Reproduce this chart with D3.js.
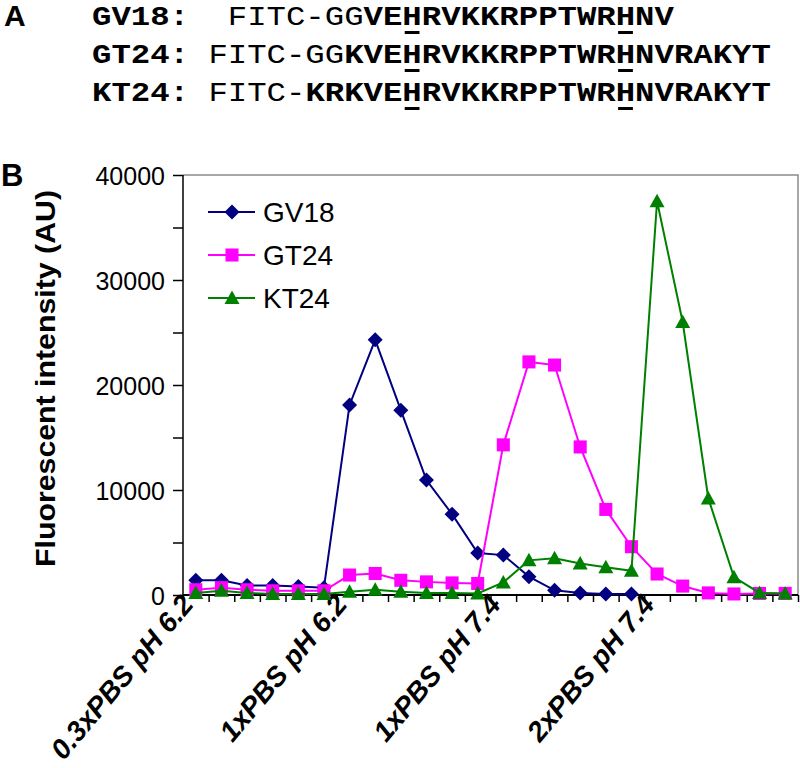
<!DOCTYPE html>
<html>
<head>
<meta charset="utf-8">
<script src="https://cdn.jsdelivr.net/npm/d3@7"></script>
<style>
  html, body { margin: 0; padding: 0; background: #fff; }
  svg { display: block; }
</style>
</head>
<body>
<svg id="chart" width="800" height="768"></svg>
<script>
// ---------- data ----------
const categoryLabels = ["0.3xPBS pH 6.2", "", "", "", "", "",
                        "1xPBS pH 6.2", "", "", "", "", "",
                        "1xPBS pH 7.4", "", "", "", "", "",
                        "2xPBS pH 7.4", "", "", "", "", ""];
const seriesNames = ["GV18", "GT24", "KT24"];
const seriesColors = ["#000080", "#FF00FF", "#008000"];
const gv18 = [1400, 1400, 900, 900, 800, 700, 18100, 24300, 17600, 10950, 7700, 4000,
              3800, 1750, 450, 200, 100, 100];
const gt24 = [500, 700, 500, 400, 400, 400, 1900, 2050, 1400, 1250, 1150, 1100,
              14300, 22200, 21900, 14100, 8150, 4600, 2000, 850, 200, 100, 150, 150];
const kt24 = [200, 400, 200, 100, 100, 100, 300, 500, 300, 200, 200, 150,
              1200, 3300, 3500, 3000, 2650, 2300, 37500, 26000, 9200, 1700, 200, 150];
const yTicks = [0, 5000, 10000, 15000, 20000, 25000, 30000, 35000, 40000];
const yTitle = "Fluorescent intensity (AU)";
const sequences = [
  { name: "GV18:", pad: "  ", plain: "FITC-GG", bold: "VEHRVKKRPPTWRHNV" },
  { name: "GT24:", pad: " ",  plain: "FITC-GG", bold: "KVEHRVKKRPPTWRHNVRAKYT" },
  { name: "KT24:", pad: " ",  plain: "FITC-",   bold: "KRKVEHRVKKRPPTWRHNVRAKYT" }
];
const underlinedChars = [16, 27];

// ---------- setup ----------
const svg = d3.select("#chart");
const pLeft = 183, pRight = 798, pTop = 175, pBottom = 595;
const sans = "'Liberation Sans', Arial, sans-serif";
const mono = "'Liberation Mono', 'Courier New', monospace";

// ---------- panel A ----------
svg.append("text").attr("x", 4).attr("y", 26)
  .attr("font-family", sans).attr("font-weight", "bold").attr("font-size", 30)
  .text("A");

const seqFont = 28, adv = seqFont * 0.6, sx = 19.4 / adv;
const rowBase = [25, 63, 101];
sequences.forEach((s, i) => {
  const g = svg.append("g").attr("transform", `translate(92,${rowBase[i]}) scale(${sx},1)`);
  const t = g.append("text").attr("x", 0).attr("y", 0)
    .attr("font-family", mono).attr("font-size", seqFont)
    .style("white-space", "pre");
  t.append("tspan").attr("font-weight", "bold").text(s.name);
  t.append("tspan").attr("font-weight", "normal").text(s.pad + s.plain);
  t.append("tspan").attr("font-weight", "bold").text(s.bold);
  underlinedChars.forEach(ci => {
    g.append("rect").attr("x", ci * adv + 2).attr("y", 6)
      .attr("width", adv - 4).attr("height", 3).attr("fill", "#000");
  });
});

// ---------- panel B ----------
svg.append("text").attr("x", 1).attr("y", 186)
  .attr("font-family", sans).attr("font-weight", "bold").attr("font-size", 31)
  .text("B");

const x = d3.scaleBand().domain(d3.range(categoryLabels.length)).range([pLeft, pRight]);
const xEdges = d3.scaleLinear().domain([0, categoryLabels.length]).range([pLeft, pRight]);
const y = d3.scaleLinear().domain([0, 40000]).range([pBottom, pTop]);

// plot border (top/right grey)
svg.append("path")
  .attr("d", `M${pLeft},${pTop}H${pRight}V${pBottom}`)
  .attr("fill", "none").attr("stroke", "#8c8c8c").attr("stroke-width", 1.5);

// y axis
const yAxis = svg.append("g").attr("transform", `translate(${pLeft},0)`)
  .call(d3.axisLeft(y).tickValues(yTicks).tickSize(10).tickPadding(8)
        .tickFormat(d => d % 10000 === 0 ? d : ""));
yAxis.select(".domain").attr("stroke", "#000").attr("stroke-width", 1.5).attr("d", `M0,${pTop}V${pBottom}`);
yAxis.selectAll(".tick line").attr("stroke", "#000").attr("stroke-width", 1.5);
yAxis.selectAll(".tick text").attr("font-family", sans).attr("font-size", 25).attr("fill", "#000")
  .attr("dy", "0.36em");

// x axis (ticks at category boundaries)
const xAxis = svg.append("g").attr("transform", `translate(0,${pBottom})`)
  .call(d3.axisBottom(xEdges).tickValues(d3.range(categoryLabels.length + 1)).tickSize(7).tickFormat(""));
xAxis.select(".domain").attr("stroke", "#000").attr("stroke-width", 2).attr("d", `M${pLeft},0H${pRight}`);
xAxis.selectAll(".tick line").attr("stroke", "#000").attr("stroke-width", 1.5);

// x category labels
svg.append("g").selectAll("text")
  .data(categoryLabels.map((l, i) => ({ l, i })).filter(d => d.l))
  .join("text")
  .attr("transform", d => `translate(${x(d.i) + x.bandwidth() / 2 - 1},605) rotate(-50)`)
  .attr("text-anchor", "end")
  .attr("font-family", sans).attr("font-weight", "bold").attr("font-style", "italic")
  .attr("font-size", 28)
  .text(d => d.l);

// y title
svg.append("text")
  .attr("transform", `translate(55,${(190 + 567) / 2}) rotate(-90)`)
  .attr("text-anchor", "middle")
  .attr("font-family", sans).attr("font-weight", "bold").attr("font-size", 28)
  .attr("textLength", 377).attr("lengthAdjust", "spacingAndGlyphs")
  .text(yTitle);

// ---------- series ----------
const markerPaths = [
  r => `M0,${-r}L${r},0L0,${r}L${-r},0Z`,
  r => `M${-r * 0.87},${-r * 0.87}H${r * 0.87}V${r * 0.87}H${-r * 0.87}Z`,
  r => `M0,${-r}L${r},${r * 0.8}H${-r}Z`
];
const allSeries = [gv18, gt24, kt24];
const line = d3.line().x((d, i) => x(i) + x.bandwidth() / 2).y(d => y(d));

allSeries.forEach((vals, si) => {
  const g = svg.append("g");
  g.append("path").datum(vals).attr("d", line)
    .attr("fill", "none").attr("stroke", seriesColors[si]).attr("stroke-width", 2);
  g.selectAll("path.m").data(vals).join("path").attr("class", "m")
    .attr("transform", (d, i) => `translate(${x(i) + x.bandwidth() / 2},${y(d)})`)
    .attr("d", markerPaths[si](7.5))
    .attr("fill", seriesColors[si]);
});

// ---------- legend ----------
const legY = [212, 255, 298];
seriesNames.forEach((n, si) => {
  const g = svg.append("g").attr("transform", `translate(0,${legY[si]})`);
  g.append("line").attr("x1", 208).attr("x2", 255).attr("y1", 0).attr("y2", 0)
    .attr("stroke", seriesColors[si]).attr("stroke-width", 2);
  g.append("path").attr("transform", "translate(232,0)").attr("d", markerPaths[si](7.5))
    .attr("fill", seriesColors[si]);
  g.append("text").attr("x", 263).attr("y", 10)
    .attr("font-family", sans).attr("font-size", 28).text(n);
});
</script>
</body>
</html>
